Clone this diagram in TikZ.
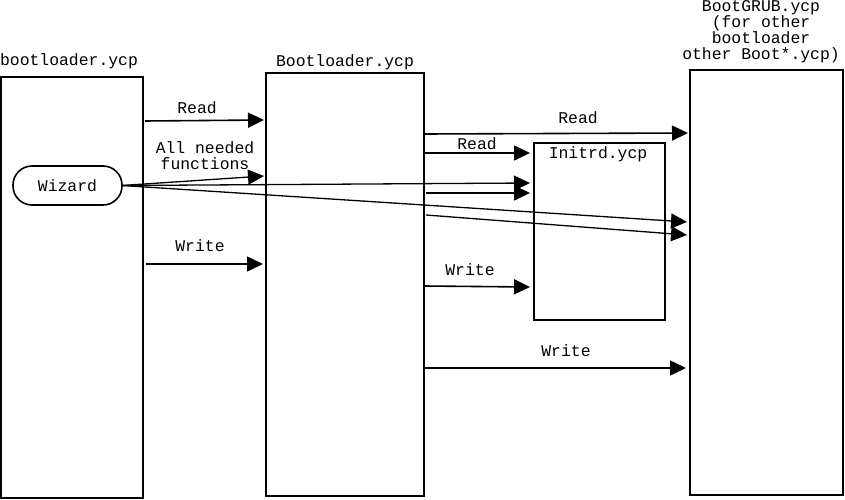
\documentclass[tikz,border=0pt]{standalone}
\usepackage{fontspec}
\setmonofont{Liberation Mono}
\usetikzlibrary{arrows.meta,calc}
\begin{document}
\begin{tikzpicture}[x=1pt,y=-1pt,
  box/.style={draw, line width=1.6pt, inner sep=0pt, outer sep=0pt},
  arr/.style={line width=1.6pt, -{Triangle[length=16pt,width=15pt]}},
  warr/.style={line width=1.3pt, -{Triangle[length=16pt,width=15pt]}},
  lbl/.style={font=\ttfamily\fontsize{16.4}{16}\selectfont, inner sep=0pt, align=center}]
\useasboundingbox (0,0) rectangle (845,500);
% boxes
\node[box, minimum width=142pt, minimum height=421pt] (L) at (72,287.5) {};
\node[box, minimum width=158pt, minimum height=423pt] (M) at (345,284.5) {};
\node[box, minimum width=153pt, minimum height=425pt] (R) at (766.5,282.5) {};
\node[box, minimum width=131pt, minimum height=177pt] (I) at (599.5,231.5) {};
\node[box, minimum width=109pt, minimum height=39pt, rounded corners=19pt] (W) at (67.5,185.5) {};
% titles
\node[lbl] (tL) at (69,61) {bootloader.ycp};
\node[lbl] (tM) at (345,62) {Bootloader.ycp};
\node[lbl] (tR) at (761,32) {BootGRUB.ycp\\(for other\\bootloader\\other Boot*.ycp)};
\node[lbl] (tI) at (598,154) {Initrd.ycp};
\node[lbl] (tW) at (W) {Wizard};
% connectors
\draw[arr] ($(L.north east)+(2,44)$) -- ($(M.north west)+(-2,47)$);
\draw[warr] (W.east) -- ($(M.north west)+(-2,103)$);
\draw[arr] ($(L.north east)+(3,187)$) -- ($(M.north west)+(-3,191)$);
\draw[arr] ($(M.north east)+(0,61)$) -- ($(R.north west)+(-2,63)$);
\draw[arr] ($(M.north east)+(0,80)$) -- ($(I.north west)+(-4,10)$);
\draw[warr] (W.east) -- ($(I.north west)+(-4,40)$);
\draw[arr] ($(M.north east)+(2,120)$) -- ($(I.north west)+(-4,50)$);
\draw[warr] (W.east) -- ($(R.north west)+(-3,152)$);
\draw[warr] ($(M.north east)+(2,142)$) -- ($(R.north west)+(-3,165)$);
\draw[arr] ($(M.north east)+(0,213)$) -- ($(I.north west)+(-4,144)$);
\draw[arr] ($(M.north east)+(0,295)$) -- ($(R.north west)+(-4,298)$);
% labels
\node[lbl] (l1) at (197,108) {Read};
\node[lbl] (l2) at (205,156) {All needed\\functions};
\node[lbl] (l3) at (200,246) {Write};
\node[lbl] (l4) at (578,118) {Read};
\node[lbl] (l5) at (477,144) {Read};
\node[lbl] (l6) at (470,270) {Write};
\node[lbl] (l7) at (566,351) {Write};
\end{tikzpicture}
\end{document}
